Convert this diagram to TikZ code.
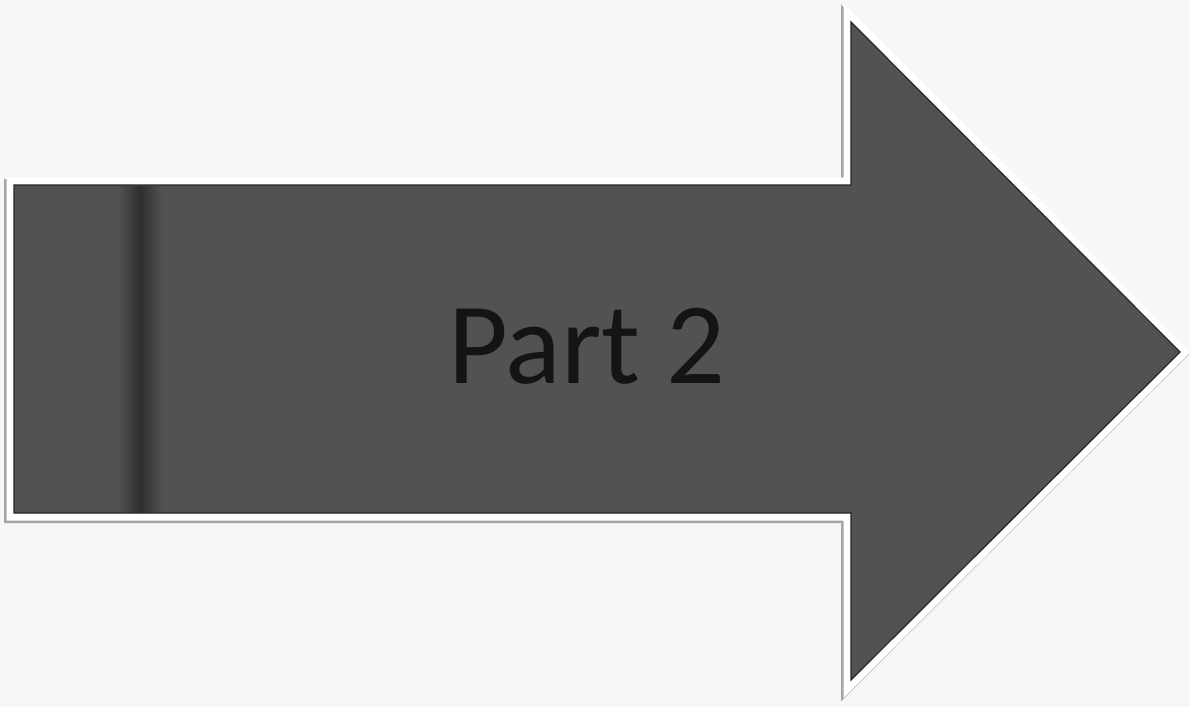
\documentclass[tikz,border=0pt]{standalone}
\usepackage{fontspec}
\newfontfamily\arrowfont{Carlito}
\definecolor{paper}{HTML}{F7F7F7}
\definecolor{arrowfill}{HTML}{525252}
\definecolor{streak}{HTML}{2E2E2E}
\definecolor{textcol}{HTML}{141414}
\begin{document}
\begin{tikzpicture}[x=1pt,y=-1pt]
\fill[paper] (0,0) rectangle (1190,707);
\useasboundingbox (0,0) rectangle (1190,707);
\def\arrowpath{(14,185) -- (851,185) -- (851,22) -- (1180,352) -- (851,680) -- (851,513) -- (14,513) -- cycle}
% shadow
\begin{scope}[shift={(-2,2)}]
\draw[gray!70, line width=16pt, line join=miter] \arrowpath;
\end{scope}
% white border
\draw[white, line width=15pt, line join=miter] \arrowpath;
% body
\fill[arrowfill] \arrowpath;
% faint vertical streak
\shade[left color=arrowfill, right color=arrowfill, middle color=streak] (118,186) rectangle (162,512);
\draw[black!85, line width=1.2pt, line join=miter] \arrowpath;
\node[anchor=base, text=textcol, font=\arrowfont\fontsize{116}{120}\selectfont, inner sep=0pt] (label) at (587,383) {Part 2};
\end{tikzpicture}
\end{document}
